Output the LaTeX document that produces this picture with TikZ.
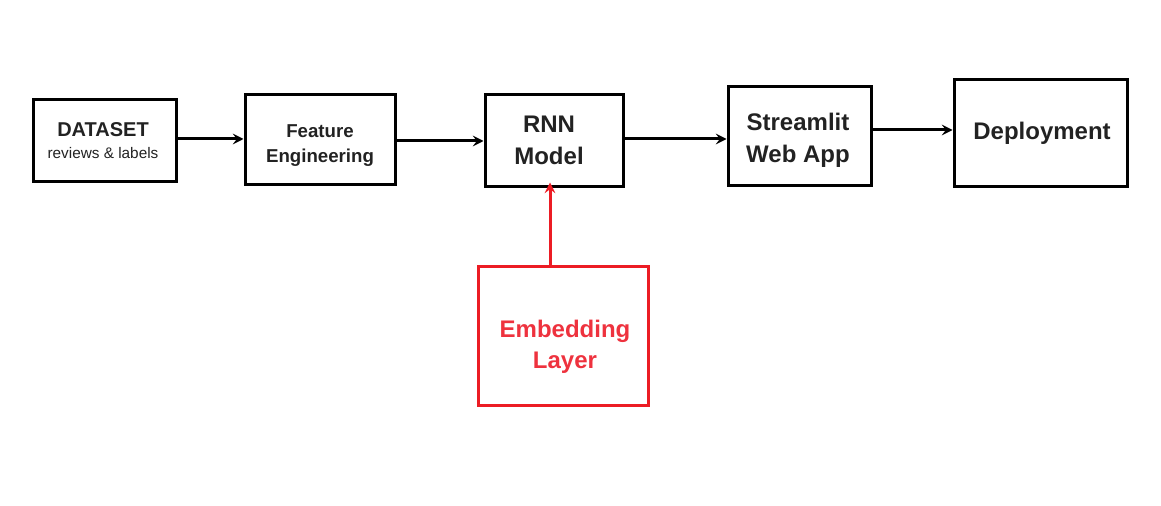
\documentclass[tikz,border=0pt]{standalone}
\usepackage{fontspec}
\setmainfont{Liberation Sans}
\usetikzlibrary{arrows.meta}

\definecolor{boxred}{RGB}{236,28,36}
\definecolor{txtred}{RGB}{238,50,62}
\definecolor{txtgray}{RGB}{34,34,34}

\tikzset{every picture/.style={line width=2.25pt}}
\tikzset{
  stagebox/.style={draw=black, line width=2.25pt, inner sep=0pt},
  stagetext/.style={align=center, inner sep=0pt, text=txtgray},
  flow/.style={line width=2.25pt, -{Stealth[length=8pt,width=8pt,inset=3pt]}},
}

\begin{document}
\begin{tikzpicture}[x=0.75pt,y=0.75pt,yscale=-1,xscale=1]
		\path[use as bounding box] (0,0) rectangle (1161,506);
		
		%Shape: Rectangle [id:ds] 
		\node [stagebox, minimum width=143*0.75pt, minimum height=82*0.75pt] (ds) at (104.5,141) {};
		%Shape: Rectangle [id:fe] 
		\node [stagebox, minimum width=150*0.75pt, minimum height=90*0.75pt] (fe) at (320,140) {};
		%Shape: Rectangle [id:rnn] 
		\node [stagebox, minimum width=138*0.75pt, minimum height=92*0.75pt] (rnn) at (554,141) {};
		%Shape: Rectangle [id:app] 
		\node [stagebox, minimum width=143*0.75pt, minimum height=99*0.75pt] (app) at (799.5,136.5) {};
		%Shape: Rectangle [id:dep] 
		\node [stagebox, minimum width=173*0.75pt, minimum height=107*0.75pt] (dep) at (1040.5,133.5) {};
		%Shape: Rectangle [id:emb] 
		\node [stagebox, draw=boxred, minimum width=170*0.75pt, minimum height=138*0.75pt] (emb) at (563,336) {};
		
		% Text Node
		\node [stagetext, font=\bfseries\fontsize{15}{16.5}\selectfont] (dstxt) at (103,141) {DATASET\\{\mdseries\fontsize{11.5}{14}\selectfont reviews \& labels}};
		% Text Node
		\node [stagetext, font=\bfseries\fontsize{14}{18.75}\selectfont] (fetxt) at (320,145.5) {Feature\\Engineering};
		% Text Node
		\node [stagetext, font=\bfseries\fontsize{18}{24}\selectfont] (rnntxt) at (549,140) {RNN\\Model};
		% Text Node
		\node [stagetext, font=\bfseries\fontsize{18}{24}\selectfont] (apptxt) at (798,140.5) {Streamlit\\Web App};
		% Text Node
		\node [stagetext, font=\bfseries\fontsize{18}{22}\selectfont] (deptxt) at (1042,133.5) {Deployment};
		% Text Node
		\node [stagetext, text=txtred, font=\bfseries\fontsize{18}{23}\selectfont] (embtxt) at (565,346.5) {Embedding\\Layer};
		
		%Straight Lines [id:ds-fe] 
		\draw [flow] (ds.east |- 0,139) -- (fe.west |- 0,139);
		%Straight Lines [id:fe-rnn] 
		\draw [flow] (fe.east |- 0,141) -- (rnn.west |- 0,141);
		%Straight Lines [id:rnn-app] 
		\draw [flow] (rnn.east |- 0,139) -- (app.west |- 0,139);
		%Straight Lines [id:app-dep] 
		\draw [flow] (app.east |- 0,130) -- (dep.west |- 0,130);
		%Straight Lines [id:emb-rnn] 
		\draw [flow, draw=boxred, fill=boxred, shorten >=-4.5pt] (emb.north -| 550,0) -- (rnn.south -| 550,0);
		
	\end{tikzpicture}
\end{document}
